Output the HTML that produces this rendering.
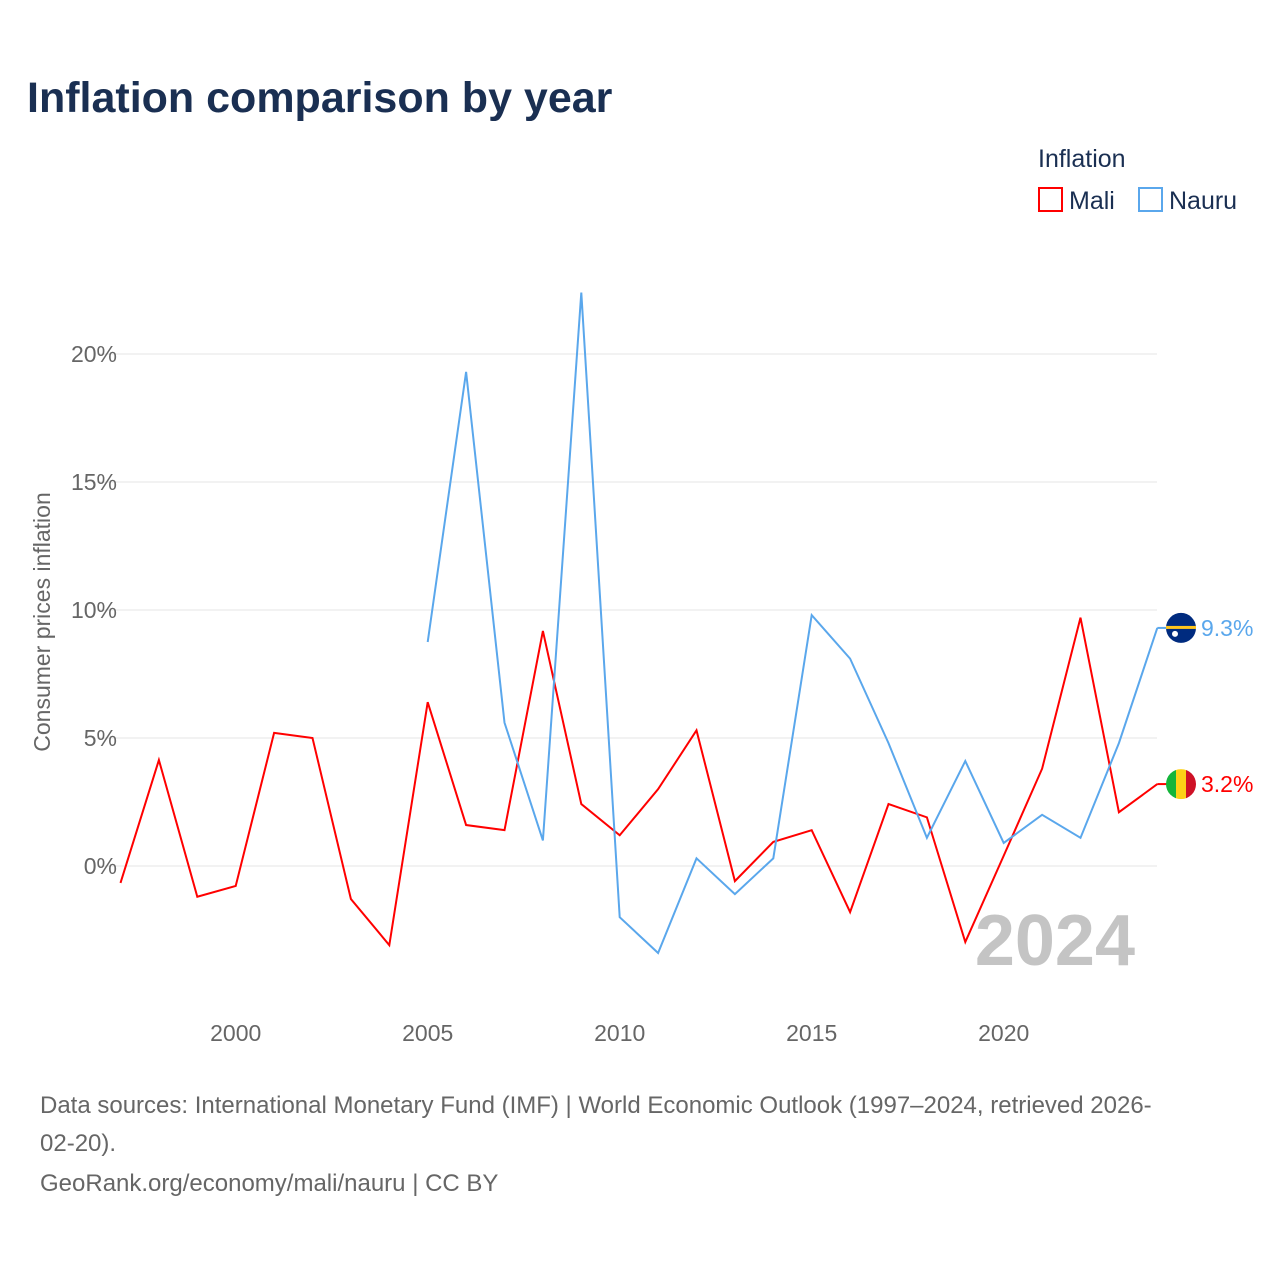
<!DOCTYPE html>
<html><head><meta charset="utf-8"><style>
body{margin:0;background:#fff;font-family:"Liberation Sans",sans-serif;}
#wrap{position:relative;width:1280px;height:1280px;overflow:hidden}
</style></head><body>
<div id="wrap">
<svg id="chart" width="1280" height="1280" font-family="Liberation Sans, sans-serif">
<text x="27" y="112" font-size="43" font-weight="bold" fill="#1a2f52">Inflation comparison by year</text>
<text x="1038" y="167" font-size="25" fill="#1a2f52">Inflation</text>
<g><rect x="1039" y="188" width="23" height="23" fill="none" stroke="#ff0000" stroke-width="2"/><text x="1069" y="209" font-size="25" fill="#1a2f52">Mali</text></g>
<g><rect x="1139" y="188" width="23" height="23" fill="none" stroke="#5aa7ec" stroke-width="2"/><text x="1169" y="209" font-size="25" fill="#1a2f52">Nauru</text></g>
<text transform="translate(50,622) rotate(-90)" text-anchor="middle" font-size="23" fill="#666">Consumer prices inflation</text>
<g id="grid"></g><g id="yt"></g><g id="xt"></g>
<text x="1135" y="965" text-anchor="end" font-size="72" font-weight="bold" fill="#c4c4c4">2024</text>
<g id="lines"></g>
<text x="40" y="1113" font-size="24" fill="#666">Data sources: International Monetary Fund (IMF) | World Economic Outlook (1997–2024, retrieved 2026-</text>
<text x="40" y="1151" font-size="24" fill="#666">02-20).</text>
<text x="40" y="1191" font-size="24" fill="#666">GeoRank.org/economy/mali/nauru | CC BY</text>
</svg></div>
<script>
const years=[1997,1998,1999,2000,2001,2002,2003,2004,2005,2006,2007,2008,2009,2010,2011,2012,2013,2014,2015,2016,2017,2018,2019,2020,2021,2022,2023,2024];
const mali=[-0.66,4.14,-1.2,-0.78,5.2,5.0,-1.29,-3.09,6.4,1.6,1.4,9.18,2.42,1.2,3.0,5.3,-0.59,0.94,1.4,-1.8,2.42,1.9,-2.97,0.4,3.8,9.7,2.1,3.2];
const nauru=[null,null,null,null,null,null,null,null,8.75,19.3,5.6,1.0,22.4,-2.0,-3.4,0.3,-1.1,0.3,9.8,8.1,4.8,1.1,4.1,0.9,2.0,1.1,4.8,9.3];
const yTicks=[0,5,10,15,20];
const xTicks=[2000,2005,2010,2015,2020];
const NS="http://www.w3.org/2000/svg";
const X=y=>120.5+(y-1997)*38.4;
const Y=v=>866-v*25.6;
function mk(t,a,p){const e=document.createElementNS(NS,t);for(const k in a)e.setAttribute(k,a[k]);p.appendChild(e);return e;}
const grid=document.getElementById('grid'),yt=document.getElementById('yt'),xt=document.getElementById('xt'),lines=document.getElementById('lines');
yTicks.forEach(v=>{
 const l=mk('line',{x1:97,x2:1157,y1:Y(v),y2:Y(v),stroke:'#e6e6e6','stroke-width':1},grid);
 
 
 const t=mk('text',{x:117,y:Y(v)+8,'text-anchor':'end','font-size':23,fill:'#666'},yt);
 t.textContent=v+'%';
 
 
});
xTicks.forEach(v=>{
 const t=mk('text',{x:X(v),y:1041,'text-anchor':'middle','font-size':23,fill:'#666'},xt);
 t.textContent=v;
 
 
});
function series(vals,color,name){
 let d='';vals.forEach((v,i)=>{if(v==null)return;d+=(d?'L':'M')+X(years[i])+','+Y(v);});
 const p=mk('path',{d:d,fill:'none',stroke:color,'stroke-width':2,'stroke-linejoin':'miter'},lines);
 
 
 const last=vals[vals.length-1];
 const g=mk('g',{},lines);
 
 
 mk('line',{x1:X(2024),x2:X(2024)+10,y1:Y(last),y2:Y(last),stroke:color,'stroke-width':2},g);
 const t=mk('text',{x:1201,y:Y(last)+8,'font-size':23,fill:color},g);
 t.textContent=last.toFixed(1)+'%';
 return g;
}
const gm=series(mali,'#ff0000','mali');
const gn=series(nauru,'#5aa7ec','nauru');
const cy1=Y(mali[mali.length-1]),cy2=Y(nauru[nauru.length-1]);
const fm=mk('g',{},gm);


mk('clipPath',{id:'c1'},fm);mk('circle',{cx:1181,cy:cy1,r:15},fm.lastChild);
mk('rect',{x:1166,y:cy1-15,width:10,height:30,fill:'#14b53a','clip-path':'url(#c1)'},fm);
mk('rect',{x:1176,y:cy1-15,width:10,height:30,fill:'#fcd116','clip-path':'url(#c1)'},fm);
mk('rect',{x:1186,y:cy1-15,width:10,height:30,fill:'#ce1126','clip-path':'url(#c1)'},fm);
const fn=mk('g',{},gn);


mk('circle',{cx:1181,cy:cy2,r:15,fill:'#002b7f'},fn);
mk('rect',{x:1166,y:cy2-2,width:30,height:3,fill:'#ffc61e'},fn);
mk('circle',{cx:1175,cy:cy2+6,r:3,fill:'#fff'},fn);
</script>
</body></html>
